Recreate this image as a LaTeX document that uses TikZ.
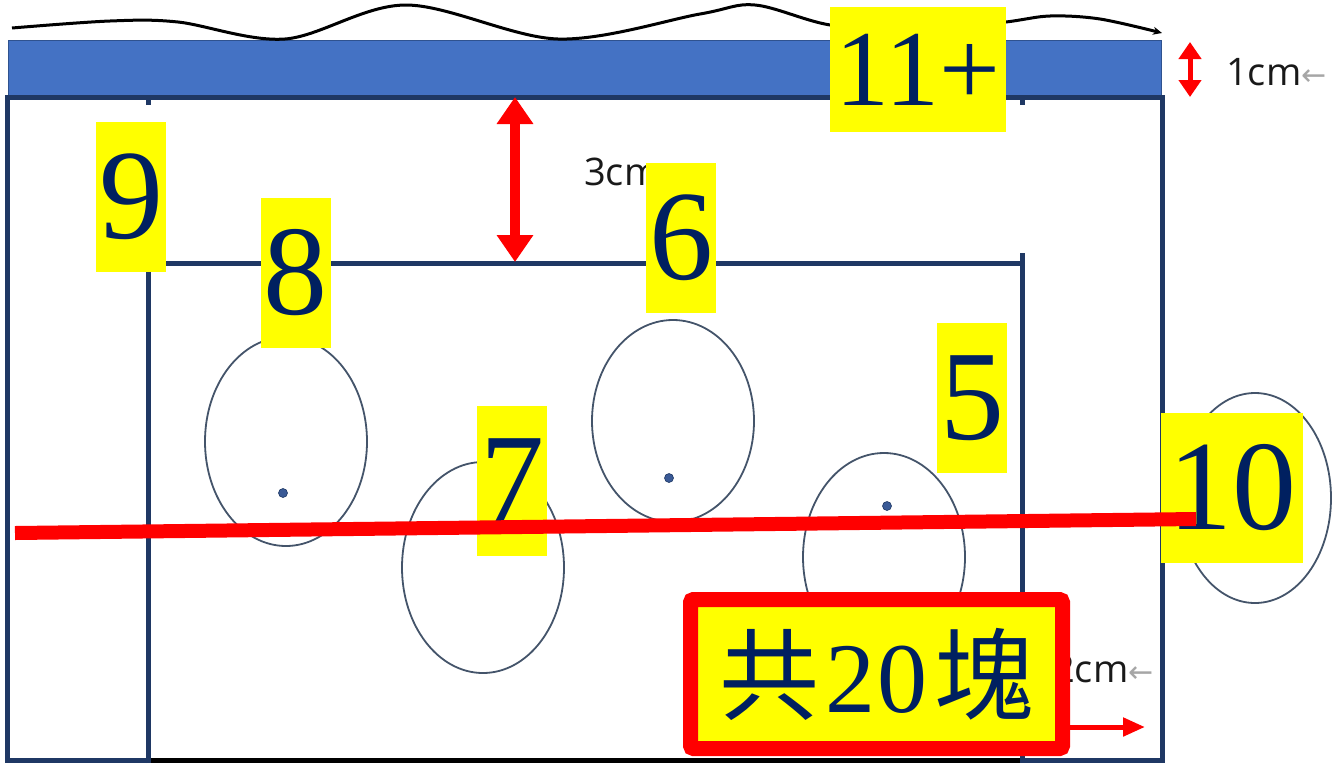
\documentclass[tikz,border=0pt]{standalone}
\usepackage{fontspec}
\setmainfont{Liberation Serif}
\newfontfamily\cjkfont{Noto Sans CJK SC}
\newfontfamily\uifont{Open Sans}
\newfontfamily\symfont{DejaVu Sans}
\usetikzlibrary{arrows.meta,shapes.geometric}
\definecolor{navyline}{HTML}{1F3864}
\definecolor{navytext}{HTML}{002060}
\definecolor{barblue}{HTML}{4472C4}
\definecolor{barborder}{HTML}{2F528F}
\definecolor{eggline}{HTML}{44546A}
\definecolor{dotblue}{HTML}{3A5A96}
\definecolor{arrowgray}{HTML}{A6A6A6}
\definecolor{pureyellow}{HTML}{FFFF00}
\definecolor{purered}{HTML}{FF0000}
\begin{document}
\begin{tikzpicture}[x=1pt,y=-1pt,
  wall/.style={draw=navyline, line width=5pt},
  egg/.style={draw=eggline, line width=1.8pt, ellipse, inner sep=0pt},
  dotmark/.style={circle, fill=dotblue, draw=navyline, line width=0.6pt, inner sep=0pt, minimum size=9pt},
  numlab/.style={fill=pureyellow, text=navytext, inner sep=0pt, minimum height=150pt, minimum width=70pt, font=\fontsize{128}{128}\selectfont},
  dimtext/.style={font=\uifont\fontsize{38}{38}\selectfont, text=black!90, inner sep=0pt, anchor=base west},
  graytip/.style={font=\symfont\fontsize{30}{30}\selectfont, text=arrowgray, inner sep=0pt, anchor=base west},
  bigdim/.style={draw=purered, line width=10pt, {Triangle[width=35pt,length=27pt]}-{Triangle[width=35pt,length=27pt]}},
  smalldim/.style={draw=purered, line width=5pt, {Triangle[width=22pt,length=17pt]}-{Triangle[width=22pt,length=17pt]}},
  pointer/.style={draw=purered, line width=5pt, -{Triangle[width=18pt,length=22pt]}},
  cutline/.style={draw=purered, line width=14pt},
  wave/.style={draw=black, line width=3pt, -{Stealth[length=9pt,width=8pt]}},
  totalbox/.style={draw=purered, fill=pureyellow, line width=15pt, rounded corners=3pt, inner sep=0pt, minimum width=372pt, minimum height=149pt, text=navytext}
]
\useasboundingbox (0,0) rectangle (1332,764);
% top blue bar
\filldraw[fill=barblue, draw=barborder, line width=1pt] (8,40) rectangle (1161,96);
% wavy line
\draw[wave] plot[smooth, tension=0.55] coordinates {(12,28) (110,21) (178,22) (285,39) (406,5) (558,39) (700,14) (755,5) (830,25) (920,32) (1006,22) (1050,16) (1100,19) (1162,33)};
% frame
\draw[wall, line join=miter] (7.5,762) -- (7.5,97.5) -- (1162,97.5) -- (1162,762);
\draw[wall] (5,760.5) -- (150,760.5);
\draw[wall] (1020,760.5) -- (1164.5,760.5);
\draw[draw=black, line width=5pt] (150,760.5) -- (1020,760.5);
\draw[wall] (148,763) -- (148,263) -- (1022,263);
\draw[wall] (1022,253) -- (1022,763);
\draw[wall] (148,97.5) -- (148,105);
\draw[wall] (1022,97.5) -- (1022,105);
% ellipses
\node[egg, minimum width=162pt, minimum height=209pt] (e1) at (286,441.5) {};
\node[egg, minimum width=162pt, minimum height=211pt] (e2) at (483,567.5) {};
\node[egg, minimum width=162pt, minimum height=202pt] (e3) at (673,421) {};
\node[egg, minimum width=162pt, minimum height=208pt] (e4) at (884,557) {};
\node[egg, minimum width=152pt, minimum height=210pt] (e5) at (1255,498) {};
\node[dotmark] (d1) at (283,493) {};
\node[dotmark] (d3) at (669,478) {};
\node[dotmark] (d4) at (887,506) {};
% dimension texts
\node[dimtext] (t3) at (584,185) {3cm};
\node[dimtext] (t1) at (1226,85) {1cm};
\node[graytip] (g1) at (t1.base east) {←};
\node[dimtext] (t2) at (1053,682) {2cm};
\node[graytip] (g2) at (t2.base east) {←};
% dimension arrows
\coordinate (a3top) at (515,97);
\coordinate (a3bot) at (515,262);
\draw[bigdim] (a3top) -- (a3bot);
\coordinate (a1top) at (1190,42);
\coordinate (a1bot) at (1190,97);
\draw[smalldim] (a1top) -- (a1bot);
\coordinate (p2a) at (1060,727);
\coordinate (p2b) at (1145,727);
\draw[pointer] (p2a) -- (p2b);
% number labels
\node[numlab] (n9) at (131,197) {9};
\node[numlab] (n8) at (295.5,273) {8};
\node[numlab] (n6) at (681,238) {6};
\node[numlab] (n7) at (512,481) {7};
\node[numlab] (n5) at (972,398) {5};
\node[numlab, minimum width=142pt] (n10) at (1232,488) {10};
\node[numlab, minimum width=176pt, minimum height=125pt, font=\fontsize{108}{108}\selectfont] (n11) at (918,69.5) {11+};
% red cut line
\coordinate (c1) at (15,533);
\coordinate (c2) at (1196,519);
\draw[cutline] (c1) -- (c2);
% total box
\node[totalbox] (total) at (876.5,674) {\fontsize{100}{100}\selectfont{\cjkfont 共}\kern6pt 2\kern3pt 0\kern6pt{\cjkfont 塊}};
\end{tikzpicture}
\end{document}
